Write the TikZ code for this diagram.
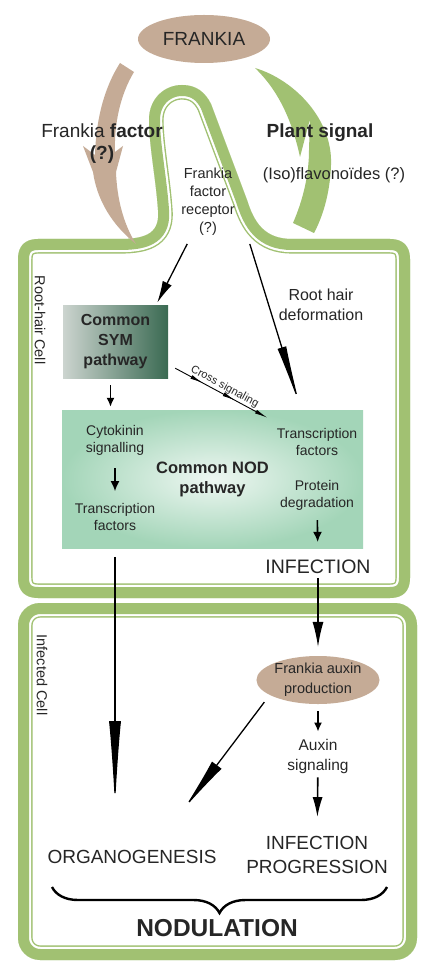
\documentclass[tikz,border=0pt]{standalone}
\usepackage{fontspec}
\setmainfont{Liberation Sans}
\usetikzlibrary{arrows.meta,shapes.geometric,decorations.pathreplacing,decorations.markings}

\definecolor{membrane}{RGB}{161,193,114}
\definecolor{frankiatan}{RGB}{197,171,150}
\definecolor{ink}{RGB}{38,38,38}
\definecolor{nodgreen}{RGB}{163,213,184}
\definecolor{nodlight}{RGB}{238,247,242}
\definecolor{symlight}{RGB}{204,212,207}
\definecolor{symdark}{RGB}{58,106,82}

\def\fsz#1#2{\fontsize{#1}{#2}\selectfont}
\newcommand{\cellwall}[2][]{%
  \begin{scope}
    \clip[#1] #2;
    \draw[#1,membrane,line width=29.2pt] #2;
    \draw[#1,white,line width=26.4pt] #2;
    \draw[#1,membrane,line width=22pt] #2;
  \end{scope}}
\def\roothairpath{(18,578) -- (18,259) .. controls (18,246) and (25,239) .. (38,239) -- (120,239) .. controls (148,239) and (160,232) .. (158,210) .. controls (156,180) and (149,145) .. (149,120) .. controls (149,98) and (165,85) .. (182,85) .. controls (196,85) and (205,92) .. (211,104) -- (247,200) .. controls (254,222) and (264,239) .. (292,239) -- (390,239) .. controls (403,239) and (410,246) .. (410,259) -- (410,578) .. controls (410,591) and (403,598) .. (390,598) -- (38,598) .. controls (25,598) and (18,591) .. (18,578) -- cycle}

\begin{document}
\begin{tikzpicture}[x=1pt,y=-1pt,
    lbl/.style={text=ink,align=center,inner sep=0pt},
    blob/.style={ellipse,fill=frankiatan,text=ink,align=center,inner sep=0pt},
    arr/.style 2 args={line width=1.3pt,-{Latex[length=#1,width=#2]}},
    brace/.style={decorate,decoration={brace,amplitude=26pt},line width=2.4pt}]
  \fill[white] (0,0) rectangle (432,973);

  %%%%% CELLS %%%%%
  \cellwall{\roothairpath}
  \cellwall[rounded corners=22pt]{(18,603) rectangle (417,960)}

  %%%%% SIGNALS %%%%%
  \node[blob,minimum width=132pt,minimum height=48pt,font=\fsz{19}{23}] (frankia) at (204,39) {FRANKIA};
  \fill[frankiatan] (120,63) -- (134,72) .. controls (120,95) and (114,125) .. (115,152) -- (123,146) -- (116,172) .. controls (117,200) and (124,225) .. (136,244) .. controls (112,225) and (97,200) .. (93,172) -- (83,146) -- (95,155) .. controls (96,120) and (104,88) .. (120,63) -- cycle;
  \fill[membrane] (255,68) .. controls (295,80) and (333,120) .. (331,165) .. controls (330,195) and (322,218) .. (314,233) -- (293,223) .. controls (303,200) and (309,175) .. (309,150) -- (310,119) -- (300,157) .. controls (292,120) and (278,90) .. (255,68) -- cycle;

  \node[lbl,font=\fsz{19}{22}] (factor) at (102,144) {Frankia \textbf{factor}\\\textbf{(?)}};
  \node[lbl,font=\fsz{19}{23}\bfseries] (plant) at (320,133) {Plant signal};
  \node[lbl,font=\fsz{16.5}{20}] (iso) at (334,175) {(Iso)flavonoïdes (?)};
  \node[lbl,font=\fsz{14.5}{18}] (receptor) at (208,202) {Frankia\\factor\\receptor\\(?)};

  %%%%% ROOT-HAIR CELL %%%%%
  \node[lbl,font=\fsz{14.5}{17},rotate=-90] (rhlabel) at (40,320) {Root-hair Cell};
  \node[lbl,font=\fsz{16}{20}] (deform) at (321,305) {Root hair\\deformation};
  \node[lbl,font=\fsz{16}{20}\bfseries,minimum width=105pt,minimum height=73pt,left color=symlight,right color=symdark] (sym) at (115.5,341.5) {Common\\SYM\\pathway};
  \node[lbl,font=\fsz{16.5}{20}\bfseries,minimum width=301pt,minimum height=138pt,inner color=nodlight,outer color=nodgreen] (nod) at (212.5,479) {Common NOD\\pathway};
  \node[lbl,font=\fsz{14}{17}] (cyto) at (115,440) {Cytokinin\\signalling};
  \node[lbl,font=\fsz{14}{17}] (tfleft) at (115,517) {Transcription\\factors};
  \node[lbl,font=\fsz{14}{17}] (tfright) at (317,442) {Transcription\\factors};
  \node[lbl,font=\fsz{14}{17}] (protein) at (317,495) {Protein\\degradation};
  \node[lbl,font=\fsz{19.5}{23}] (infection) at (318,567) {INFECTION};

  %%%%% INFECTED CELL %%%%%
  \node[lbl,font=\fsz{14.5}{17},rotate=-90] (iclabel) at (42,675) {Infected Cell};
  \node[blob,minimum width=118pt,minimum height=48pt,font=\fsz{14.5}{20}] (auxin) at (318,680) {Frankia auxin\\production};
  \node[lbl,font=\fsz{15.5}{20}] (auxsig) at (318,756) {Auxin\\signaling};
  \node[lbl,font=\fsz{19}{24}] (organo) at (132,857) {ORGANOGENESIS};
  \node[lbl,font=\fsz{19}{24}] (progress) at (317,855) {INFECTION\\PROGRESSION};
  \node[lbl,font=\fsz{24.5}{28}\bfseries] (nodul) at (217,928) {NODULATION};

  %%%%% ARROWS %%%%%
  \draw[arr={22pt}{10pt}] ([xshift=6pt,yshift=-8pt]receptor.south west) -- ([xshift=-11pt,yshift=2pt]sym.north east);
  \draw[arr={62pt}{9pt}] ([xshift=15pt,yshift=-8pt]receptor.south east) -- ([xshift=-63pt,yshift=3pt]nod.north east);
  \draw[arr={9pt}{8pt},line width=1.6pt,shorten <=7pt,shorten >=3pt] ([xshift=-5pt]sym.south) -- ([xshift=-5pt]sym.south |- nod.north);
  \draw[line width=0.9pt,-{Latex[length=13pt,width=4pt]},postaction={decorate,decoration={markings,mark=at position 0.3 with {\arrow{Latex[length=13pt,width=4pt]}},mark=at position 0.65 with {\arrow{Latex[length=13pt,width=4pt]}}}}] ([xshift=7pt,yshift=10pt]sym.south east) -- node[lbl,midway,above=1.5pt,sloped,font=\fsz{11}{13}] (cross) {Cross signaling} ([xshift=55pt,yshift=-8pt]nod.north);
  \draw[arr={10pt}{9pt},line width=1.6pt,shorten <=13pt,shorten >=12pt] (cyto) -- (tfleft);
  \draw[arr={10pt}{9pt},line width=1.6pt,shorten <=10pt,shorten >=18pt] (protein) -- (infection);
  \draw[arr={86pt}{12pt},shorten <=26pt,shorten >=43pt] (tfleft) -- (tfleft |- organo.north);
  \draw[arr={25pt}{11pt},shorten <=4pt,shorten >=9pt] (infection) -- (auxin);
  \draw[arr={55pt}{12pt}] ([xshift=-10pt,yshift=-5pt]auxin.south west) -- ([xshift=-33pt,yshift=41pt]organo.north east);
  \draw[arr={9pt}{8pt},line width=1.6pt,shorten <=7pt,shorten >=7pt] (auxin) -- (auxsig);
  \draw[arr={20pt}{10pt},line width=1.6pt,shorten <=4pt,shorten >=19pt] (auxsig) -- (progress);

  \draw[brace] (387,887) -- (52,887);
\end{tikzpicture}
\end{document}
